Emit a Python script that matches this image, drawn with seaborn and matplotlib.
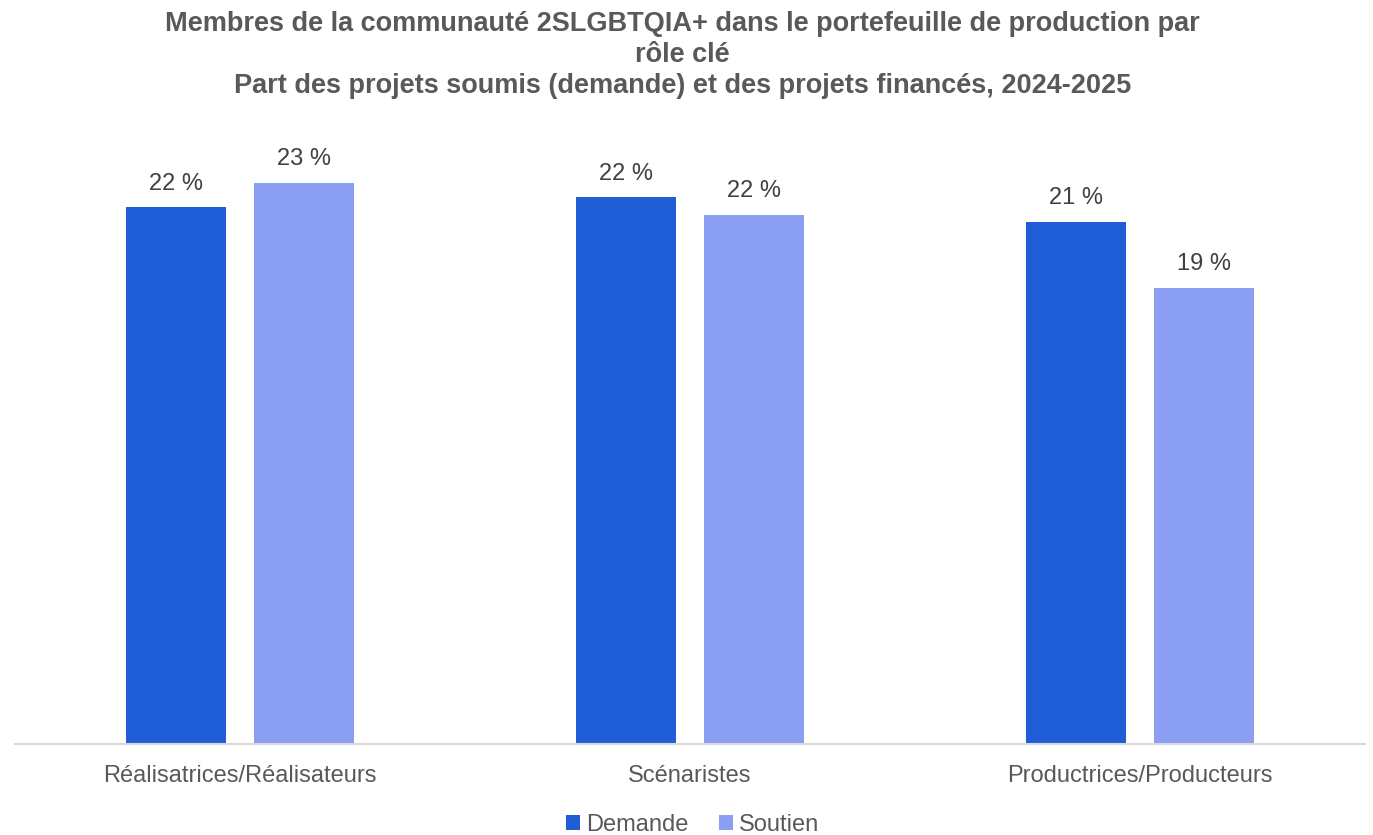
import pandas as pd
import numpy as np
import matplotlib
matplotlib.use('Agg')
import matplotlib.pyplot as plt
import seaborn as sns

# Data (share of projects, %)
roles = ['Réalisatrices/Réalisateurs', 'Scénaristes', 'Productrices/Producteurs']
series_names = ['Demande', 'Soutien']
demande = [22.0, 22.4, 21.4]
soutien = [23.0, 21.7, 18.7]

title = ("Membres de la communauté 2SLGBTQIA+ dans le portefeuille de production par\n"
         "rôle clé\n"
         "Part des projets soumis (demande) et des projets financés, 2024-2025")

colors = {'Demande': '#1F5ED6', 'Soutien': '#8A9EF2'}

df = pd.DataFrame({
    'role': roles * 2,
    'serie': [series_names[0]] * len(roles) + [series_names[1]] * len(roles),
    'value': demande + soutien,
})

sns.set_theme(style='white')
plt.rcParams['font.family'] = ['Liberation Sans', 'DejaVu Sans']

fig = plt.figure(figsize=(13.73, 8.35), dpi=100)
ax = fig.add_axes([15 / 1373, 91 / 835, 1350 / 1373, 610 / 835])

sns.barplot(data=df, x='role', y='value', hue='serie', palette=colors,
            width=0.57, gap=0.22, ax=ax, legend=True, saturation=1, linewidth=0)

ax.set_ylim(0, 25)
ax.set_xlim(-0.5, 2.5)
ax.set_yticks([])
ax.set_xlabel('')
ax.set_ylabel('')
for side in ['top', 'left', 'right']:
    ax.spines[side].set_visible(False)
ax.spines['bottom'].set_color('#D9D9D9')
ax.spines['bottom'].set_linewidth(1.5)
ax.tick_params(axis='x', length=0, labelsize=17, labelcolor='#595959', pad=15)

# Data labels
for cont in ax.containers:
    ax.bar_label(cont, labels=[f'{v:.0f} %' for v in cont.datavalues],
                 padding=9, fontsize=17, color='#404040')

ax.legend(loc='lower center', bbox_to_anchor=(0.502, -0.186), ncol=2, frameon=False,
          fontsize=17, handlelength=0.6, handleheight=0.6, handletextpad=0.25,
          columnspacing=1.3, labelcolor='#595959')

fig.suptitle(title, x=0.497, y=0.987, fontsize=19.5, fontweight='bold', color='#595959',
             linespacing=1.26)

fig.savefig('out.png', dpi=100)
